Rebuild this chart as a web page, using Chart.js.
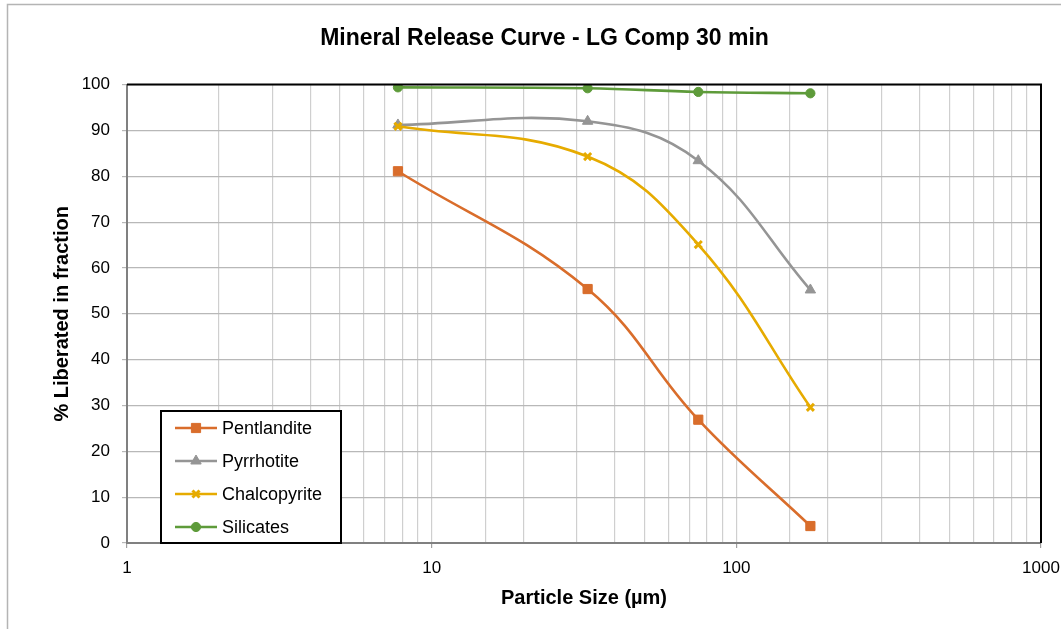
<!DOCTYPE html>
<html><head><meta charset="utf-8">
<script src="https://cdn.jsdelivr.net/npm/chart.js@4/dist/chart.umd.min.js"></script>
<style>html,body{margin:0;padding:0;background:#fff;} #wrap{position:relative;width:1061px;height:629px;}</style>
</head><body><div id="wrap"><canvas id="c" width="1061" height="629"></canvas></div>
<script>
// ---- data ----
const particleSizes = [7.75, 32.5, 75, 175];          // µm (x)
const pentlandite  = [81.1, 55.4, 26.9, 3.7];
const pyrrhotite   = [91.2, 92.0, 83.4, 55.2];
const chalcopyrite = [90.9, 84.3, 65.1, 29.6];
const silicates    = [99.4, 99.2, 98.4, 98.1];
const seriesNames  = ['Pentlandite', 'Pyrrhotite', 'Chalcopyrite', 'Silicates'];
const xTickLabels  = [1, 10, 100, 1000];
const yTickValues  = [0, 10, 20, 30, 40, 50, 60, 70, 80, 90, 100];
const chartTitle   = 'Mineral Release Curve - LG Comp 30 min';
const xAxisTitle   = 'Particle Size (µm)';
const yAxisTitle   = '% Liberated in fraction';

const FONT = "'Liberation Sans', Arial, Helvetica, sans-serif";
const seriesValues = [pentlandite, pyrrhotite, chalcopyrite, silicates];
const seriesColors = ['#d96d2b', '#959595', '#e6ab00', '#5e9b3a'];
const seriesMarkers = ['rect', 'triangle', 'crossRot', 'circle'];
const markerRadius = [6.5, 6, 5, 4.6];
const markerBorder = [1, 1, 3, 1];

const datasets = seriesNames.map((name, i) => ({
  label: name,
  data: particleSizes.map((x, j) => ({x: x, y: seriesValues[i][j]})),
  borderColor: seriesColors[i],
  backgroundColor: seriesColors[i],
  pointBackgroundColor: seriesColors[i],
  pointBorderColor: seriesColors[i],
  pointStyle: seriesMarkers[i],
  pointRadius: markerRadius[i],
  pointBorderWidth: markerBorder[i],
  borderWidth: 2.6,
  tension: 0.4,
  fill: false,
  order: seriesNames.length - i
}));

const outerFrame = {
  id: 'outerFrame',
  beforeDraw(chart) {
    const ctx = chart.ctx;
    ctx.save();
    ctx.strokeStyle = '#b4b4b4';
    ctx.lineWidth = 1.5;
    ctx.beginPath();
    ctx.moveTo(7.5, chart.height + 2);
    ctx.lineTo(7.5, 4.5);
    ctx.lineTo(chart.width + 2, 4.5);
    ctx.stroke();
    ctx.restore();
  }
};

const plotFrame = {
  id: 'plotFrame',
  afterDatasetsDraw(chart) {
    const {ctx, chartArea: a} = chart;
    ctx.save();
    ctx.strokeStyle = '#000';
    ctx.lineWidth = 2;
    ctx.beginPath();
    ctx.moveTo(a.left, a.top);
    ctx.lineTo(a.right, a.top);
    ctx.lineTo(a.right, a.bottom);
    ctx.stroke();
    ctx.restore();
  }
};

const boxLegend = {
  id: 'boxLegend',
  afterDatasetsDraw(chart) {
    const ctx = chart.ctx;
    const a = chart.chartArea;
    const left = a.left + 34, right = a.left + 214, top = a.bottom - 132, bottom = a.bottom;
    ctx.save();
    ctx.fillStyle = '#fff';
    ctx.fillRect(left, top, right - left, bottom - top);
    ctx.strokeStyle = '#000';
    ctx.lineWidth = 2;
    ctx.strokeRect(left, top, right - left, bottom - top);
    ctx.font = '18px ' + FONT;
    ctx.textBaseline = 'middle';
    ctx.textAlign = 'left';
    chart.data.datasets.forEach((ds, i) => {
      const y = top + 17 + i * 33;
      ctx.strokeStyle = ds.borderColor;
      ctx.lineWidth = 2.6;
      ctx.beginPath();
      ctx.moveTo(left + 14, y);
      ctx.lineTo(left + 56, y);
      ctx.stroke();
      ctx.fillStyle = ds.pointBackgroundColor;
      ctx.strokeStyle = ds.pointBorderColor;
      ctx.lineWidth = ds.pointBorderWidth;
      Chart.helpers.drawPoint(ctx, {pointStyle: ds.pointStyle, radius: ds.pointRadius, borderWidth: ds.pointBorderWidth, rotation: 0}, left + 35, y);
      ctx.fillStyle = '#000';
      ctx.fillText(ds.label, left + 61, y + 1);
    });
    ctx.restore();
  }
};

new Chart(document.getElementById('c'), {
  type: 'line',
  data: {datasets: datasets},
  options: {
    responsive: false,
    animation: false,
    devicePixelRatio: 1,
    layout: {padding: {left: 48, right: 20, top: 0, bottom: 0}},
    plugins: {
      legend: {display: false},
      tooltip: {enabled: false},
      title: {
        display: true,
        text: chartTitle,
        color: '#000',
        font: {family: FONT, size: 23, weight: 'bold'},
        padding: {top: 25, bottom: 32}
      }
    },
    scales: {
      x: {
        type: 'logarithmic',
        min: xTickLabels[0],
        max: xTickLabels[xTickLabels.length - 1],
        afterFit(scale) { scale.height = 86; scale.paddingRight = 0; scale.paddingLeft = 0; },
        border: {color: '#808080', width: 2},
        grid: {
          color: '#cfcfcf',
          lineWidth: 1.2,
          tickLength: 5,
          tickColor: (c) => (c.tick && xTickLabels.includes(c.tick.value)) ? '#a0a0a0' : 'rgba(0,0,0,0)'
        },
        ticks: {
          autoSkip: false,
          maxRotation: 0,
          padding: 10,
          color: '#000',
          font: {family: FONT, size: 17},
          callback: (v) => xTickLabels.includes(v) ? String(v) : ''
        },
        title: {
          display: true,
          text: xAxisTitle,
          color: '#000',
          font: {family: FONT, size: 20, weight: 'bold'},
          padding: {top: 0, bottom: 19}
        }
      },
      y: {
        min: yTickValues[0],
        max: yTickValues[yTickValues.length - 1],
        afterFit(scale) { scale.width = 79; },
        afterBuildTicks(scale) { scale.ticks = yTickValues.map(v => ({value: v})); },
        border: {color: '#808080', width: 2},
        grid: {color: '#b8b8b8', lineWidth: 1.2, tickLength: 5, tickColor: '#b8b8b8'},
        ticks: {
          padding: 12,
          color: '#000',
          font: {family: FONT, size: 17}
        },
        title: {
          display: true,
          text: yAxisTitle,
          color: '#000',
          font: {family: FONT, size: 20, weight: 'bold'},
          padding: {top: 2, bottom: 0}
        }
      }
    }
  },
  plugins: [outerFrame, plotFrame, boxLegend]
});
</script>
</body></html>
